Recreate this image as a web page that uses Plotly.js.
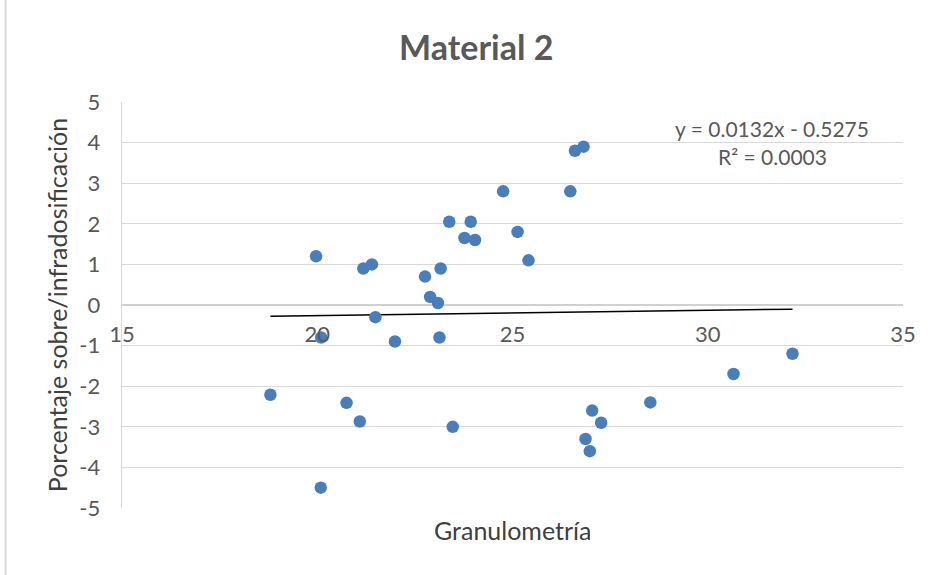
<!DOCTYPE html>
<html>
<head>
<meta charset="utf-8">
<script src="https://cdn.plot.ly/plotly-3.0.1.min.js"></script>
<style>
  html, body { margin: 0; padding: 0; background: #ffffff; }
  #chart { width: 932px; height: 575px; }
</style>
</head>
<body>
<div id="chart"></div>
<script>
// Granulometría (x) values
const granulometria = [
  18.80, 19.97, 20.10, 20.09, 20.75, 21.09, 21.18, 21.40, 21.49, 21.99,
  22.76, 22.89, 23.09, 23.16, 23.13, 23.38, 23.47, 23.77, 23.93, 24.04,
  24.76, 25.13, 25.41, 26.48, 26.60, 26.82, 26.87, 26.98, 27.04, 27.27,
  28.53, 30.66, 32.17
];
// Porcentaje sobre/infradosificación (y) values
const porcentaje = [
  -2.21, 1.20, -0.80, -4.50, -2.41, -2.87, 0.90, 1.00, -0.30, -0.90,
  0.70, 0.20, 0.05, 0.90, -0.80, 2.05, -3.00, 1.65, 2.05, 1.60,
  2.80, 1.80, 1.10, 2.80, 3.80, 3.90, -3.30, -3.60, -2.60, -2.90,
  -2.40, -1.70, -1.20
];
// Linear trendline coefficients (as reported on chart)
const trendSlope = [0.0132];
const trendIntercept = [-0.5275];
const trendLabel = ["y = 0.0132x - 0.5275", "R² = 0.0003"];

const xTicks = [15, 20, 25, 30, 35];
const yTicks = [-5, -4, -3, -2, -1, 0, 1, 2, 3, 4, 5];

const xMin = Math.min(...granulometria);
const xMax = Math.max(...granulometria);
const trendX = [xMin, xMax];
const trendY = trendX.map(v => trendSlope[0] * v + trendIntercept[0]);

const FONT = "Lato, 'Open Sans', sans-serif";
const GRAY = "#595959";

const data = [
  {
    x: trendX, y: trendY, type: 'scatter', mode: 'lines',
    line: { color: '#000000', width: 1.5 }, hoverinfo: 'skip', showlegend: false
  },
  {
    x: granulometria, y: porcentaje, type: 'scatter', mode: 'markers',
    marker: { color: '#4a7ebb', size: 12.5, line: { width: 0 } },
    showlegend: false
  }
];

const layout = {
  width: 932, height: 575,
  margin: { l: 122, r: 29, t: 102, b: 67 },
  paper_bgcolor: '#ffffff', plot_bgcolor: '#ffffff',
  font: { family: FONT, color: GRAY, size: 16 },
  title: {
    text: '<b>Material 2</b>',
    font: { family: FONT, size: 34, color: GRAY },
    x: 0.511, xanchor: 'center', y: 0.917, yanchor: 'middle'
  },
  xaxis: {
    range: [15, 35], tickvals: xTicks, ticktext: xTicks.map(String),
    anchor: 'free', position: 0.5,
    showgrid: false, zeroline: false, showline: false,
    ticks: '', tickfont: { family: FONT, size: 22, color: GRAY },
    ticklabelstandoff: 14,
    title: { text: '' }
  },
  yaxis: {
    range: [-5, 5], tickvals: yTicks, ticktext: yTicks.map(String),
    showgrid: true, gridcolor: '#d9d9d9', gridwidth: 1.3,
    zeroline: true, zerolinecolor: '#d0d0d0', zerolinewidth: 1.5,
    showline: true, linecolor: '#d9d9d9', linewidth: 1.3,
    ticks: '', tickfont: { family: FONT, size: 22, color: GRAY },
    ticklabelstandoff: 16,
    title: { text: 'Porcentaje sobre/infradosificación', font: { family: FONT, size: 25, color: '#404040' }, standoff: 4 }
  },
  annotations: [
    {
      xref: 'paper', yref: 'paper', x: 0.5, y: -0.055, xanchor: 'center', yanchor: 'middle',
      text: 'Granulometría', showarrow: false,
      font: { family: FONT, size: 25, color: '#404040' }
    },
    {
      xref: 'x', yref: 'y', x: 31.65, y: 4.34, xanchor: 'center', yanchor: 'middle',
      text: trendLabel[0], showarrow: false,
      font: { family: FONT, size: 21, color: GRAY }
    },
    {
      xref: 'x', yref: 'y', x: 31.65, y: 3.65, xanchor: 'center', yanchor: 'middle',
      text: trendLabel[1], showarrow: false,
      font: { family: FONT, size: 21, color: GRAY }
    }
  ],
  shapes: [
    {
      type: 'line', xref: 'paper', yref: 'paper',
      x0: -0.149, x1: -0.149, y0: -0.17, y1: 1.26,
      line: { color: '#d9d9d9', width: 2 }
    }
  ]
};

Plotly.newPlot('chart', data, layout, { displayModeBar: false, staticPlot: true });
</script>
</body>
</html>
